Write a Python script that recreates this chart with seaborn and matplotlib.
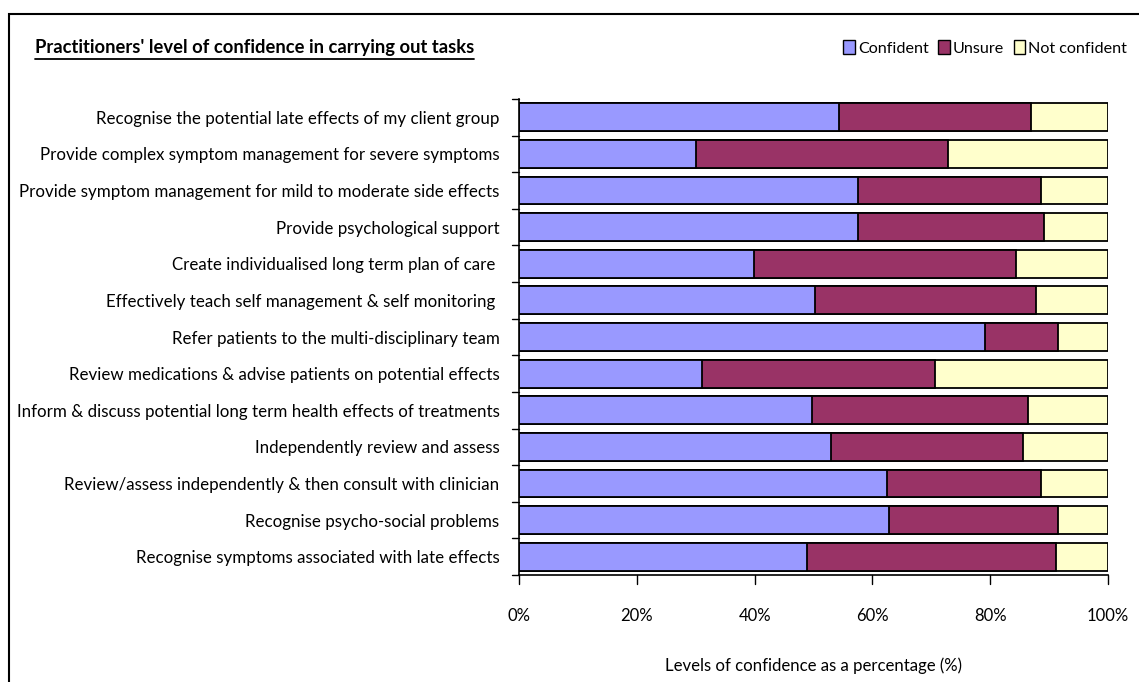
import numpy as np
import pandas as pd
import matplotlib
matplotlib.use("Agg")
import matplotlib.pyplot as plt
import seaborn as sns
from matplotlib.patches import Patch, Rectangle
from matplotlib.lines import Line2D

tasks = [
    "Recognise the potential late effects of my client group",
    "Provide complex symptom management for severe symptoms",
    "Provide symptom management for mild to moderate side effects",
    "Provide psychological support",
    "Create individualised long term plan of care ",
    "Effectively teach self management & self monitoring ",
    "Refer patients to the multi-disciplinary team",
    "Review medications & advise patients on potential effects",
    "Inform & discuss potential long term health effects of treatments",
    "Independently review and assess",
    "Review/assess independently & then consult with clinician",
    "Recognise psycho-social problems",
    "Recognise symptoms associated with late effects",
]
confident = [54.4, 30.1, 57.5, 57.5, 39.9, 50.3, 79.1, 31.0, 49.8, 52.9, 62.5, 62.8, 48.9]
unsure = [32.6, 42.7, 31.1, 31.6, 44.5, 37.5, 12.4, 39.6, 36.6, 32.7, 26.2, 28.7, 42.2]
not_confident = [13.0, 27.2, 11.4, 10.9, 15.6, 12.2, 8.5, 29.4, 13.6, 14.4, 11.3, 8.5, 8.9]

series = ["Confident", "Unsure", "Not confident"]
colors = ["#9999FF", "#993366", "#FFFFCC"]

df = pd.DataFrame({"task": tasks, "Confident": confident,
                   "Unsure": unsure, "Not confident": not_confident})
df["c1"] = df["Confident"]
df["c2"] = df["c1"] + df["Unsure"]
df["c3"] = df["c2"] + df["Not confident"]

sns.set_theme(style="white")
plt.rcParams["font.family"] = ["Lato", "DejaVu Sans"]
plt.rcParams["text.color"] = "black"
plt.rcParams["xtick.color"] = "black"
plt.rcParams["ytick.color"] = "black"
plt.rcParams["axes.labelcolor"] = "black"

fig = plt.figure(figsize=(11.39, 6.82), dpi=100)
ax = fig.add_axes([519 / 1139, 1 - 575 / 682, 589 / 1139, 476 / 682])

# stacked bars drawn as overlapping cumulative totals
for col, c in zip(["c3", "c2", "c1"], colors[::-1]):
    sns.barplot(data=df, x=col, y="task", orient="h", color=c, width=0.76,
                edgecolor="black", linewidth=1.3, saturation=1, ax=ax)

ax.set_xlim(0, 100)
ax.set_ylim(len(tasks) - 0.5, -0.5)
ax.set_xticks(np.arange(0, 101, 20))
ax.set_xticklabels([f"{v}%" for v in range(0, 101, 20)], fontsize=12)
ax.set_yticks(np.arange(len(tasks)))
ax.set_yticklabels(tasks, fontsize=12.2)
ax.tick_params(axis="y", length=0, pad=14)
ax.tick_params(axis="x", length=0, pad=24)
# tick marks between categories on the left, outward marks at bottom
for b in np.arange(-0.5, len(tasks), 1.0):
    ax.plot([-1.2, 0], [b, b], color="black", lw=1, clip_on=False)
for v in range(0, 101, 20):
    ax.plot([v, v], [len(tasks) - 0.5, len(tasks) - 0.5 + 0.25], color="black", lw=1, clip_on=False)
for s in ["top", "right"]:
    ax.spines[s].set_visible(False)
for s in ["left", "bottom"]:
    ax.spines[s].set_color("black")
    ax.spines[s].set_linewidth(1.2)
ax.set_xlabel("Levels of confidence as a percentage (%)", fontsize=12.1, labelpad=24)
ax.set_ylabel("")

# title with underline
t = fig.text(35 / 1139, 1 - 48 / 682, "Practitioners' level of confidence in carrying out tasks",
             fontsize=13.2, fontweight="bold", va="center", ha="left")
fig.canvas.draw()
bb = t.get_window_extent().transformed(fig.transFigure.inverted())
fig.add_artist(Line2D([bb.x0, bb.x1], [bb.y0 - 0.003, bb.y0 - 0.003], color="black", lw=1.3,
                      transform=fig.transFigure))

handles = [Patch(facecolor=c, edgecolor="black", label=s) for s, c in zip(series, colors)]
fig.legend(handles=handles, loc="center right", bbox_to_anchor=(0.998, 1 - 48 / 682), ncol=3,
           frameon=False, fontsize=11.6, handlelength=0.7, handleheight=0.9, handletextpad=0.2,
           columnspacing=0.6, borderaxespad=0.2)

fig.add_artist(Rectangle((9 / 1139, -0.05), 1.2, 1 - 14 / 682 + 0.05, transform=fig.transFigure,
                         fill=False, edgecolor="black", lw=1.5))

fig.savefig("out.png", dpi=100, facecolor="white")
